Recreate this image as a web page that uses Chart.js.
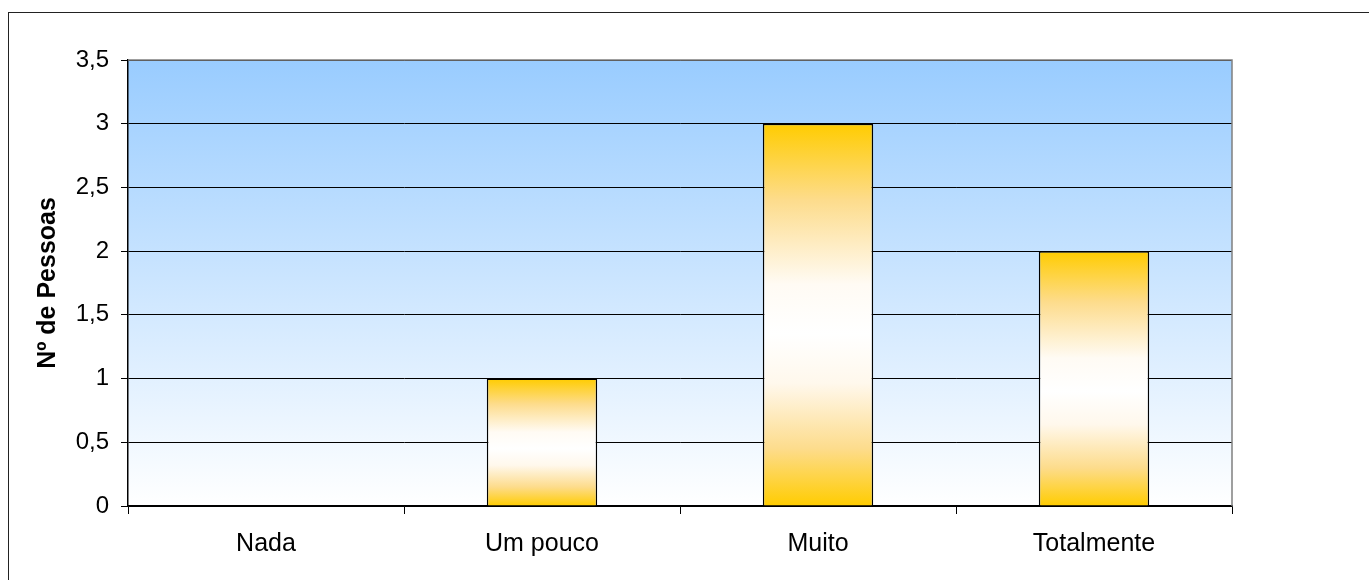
<!DOCTYPE html>
<html lang="pt">
<head>
    <meta charset="UTF-8">
    <title>Nº de Pessoas</title>
    <script src="https://cdn.jsdelivr.net/npm/chart.js"></script>
    <style>
        html, body { margin: 0; padding: 0; background: #fff; }
        .chart-container { width: 1369px; height: 580px; position: relative; }
    </style>
</head>
<body>
    <div class="chart-container">
        <canvas id="pessoasChart"></canvas>
    </div>

    <script>
        const categories = ['Nada', 'Um pouco', 'Muito', 'Totalmente'];
        const pessoas = [0, 1, 3, 2];
        const yTicks = [0, 0.5, 1, 1.5, 2, 2.5, 3, 3.5];

        const FONT = "'Liberation Sans', Arial, sans-serif";

        // frame round the whole picture + blue gradient behind the plot
        const backdrop = {
            id: 'backdrop',
            beforeDraw(chart) {
                const { ctx, chartArea: a } = chart;
                ctx.save();
                ctx.strokeStyle = '#222';
                ctx.lineWidth = 1;
                ctx.strokeRect(8.5, 12.5, chart.width, chart.height);
                const g = ctx.createLinearGradient(0, a.top, 0, a.bottom);
                g.addColorStop(0, '#99CCFF');
                g.addColorStop(1, '#FFFFFF');
                ctx.fillStyle = g;
                ctx.fillRect(a.left, a.top, a.right - a.left, a.bottom - a.top);
                ctx.restore();
            },
            afterDraw(chart) {
                const { ctx, chartArea: a } = chart;
                ctx.save();
                ctx.strokeStyle = '#808080';
                ctx.lineWidth = 1.5;
                ctx.beginPath();
                ctx.moveTo(a.left, a.top);
                ctx.lineTo(a.right, a.top);
                ctx.lineTo(a.right, a.bottom);
                ctx.stroke();
                ctx.restore();
            }
        };

        function barGradient(context) {
            const chart = context.chart;
            if (!chart.chartArea || context.type !== 'data') return '#FFCC00';
            const y = chart.scales.y;
            const top = y.getPixelForValue(context.raw);
            const bottom = y.getPixelForValue(0);
            if (bottom - top < 1) return '#FFCC00';
            const g = chart.ctx.createLinearGradient(0, top, 0, bottom);
            g.addColorStop(0, '#FFCC00');
            g.addColorStop(0.2, '#FDDC8C');
            g.addColorStop(0.42, '#FFFBF4');
            g.addColorStop(0.55, '#FFFFFF');
            g.addColorStop(0.68, '#FFF8EC');
            g.addColorStop(0.85, '#FDDC8C');
            g.addColorStop(1, '#FFCC00');
            return g;
        }

        new Chart(document.getElementById('pessoasChart'), {
            type: 'bar',
            data: {
                labels: categories,
                datasets: [{
                    data: pessoas,
                    backgroundColor: barGradient,
                    borderColor: '#000',
                    borderWidth: 1.5,
                    categoryPercentage: 0.4,
                    barPercentage: 1
                }]
            },
            plugins: [backdrop],
            options: {
                responsive: true,
                maintainAspectRatio: false,
                animation: false,
                devicePixelRatio: 1,
                layout: { padding: { left: 0, top: 60, right: 137, bottom: 0 } },
                plugins: {
                    legend: { display: false },
                    tooltip: { enabled: false }
                },
                scales: {
                    x: {
                        offset: true,
                        border: { color: '#000', width: 1.5 },
                        grid: {
                            offset: true,
                            drawOnChartArea: false,
                            drawTicks: true,
                            tickLength: 8,
                            color: '#000'
                        },
                        ticks: {
                            color: '#000',
                            padding: 15,
                            font: { family: FONT, size: 25 }
                        },
                        afterFit(scale) { scale.height = 74; }
                    },
                    y: {
                        min: 0,
                        max: 3.5,
                        afterBuildTicks(scale) {
                            scale.ticks = yTicks.map(v => ({ value: v }));
                        },
                        border: { color: '#000', width: 1.5 },
                        grid: {
                            color: '#000',
                            lineWidth: 1,
                            tickLength: 7
                        },
                        ticks: {
                            color: '#000',
                            padding: 12,
                            font: { family: FONT, size: 24 },
                            callback: v => String(v).replace('.', ',')
                        },
                        title: {
                            display: true,
                            text: 'Nº de Pessoas',
                            color: '#000',
                            padding: { top: 33, bottom: 0 },
                            font: { family: FONT, size: 25, weight: 'bold' }
                        },
                        afterFit(scale) { scale.width = 128; }
                    }
                }
            }
        });
    </script>
</body>
</html>
